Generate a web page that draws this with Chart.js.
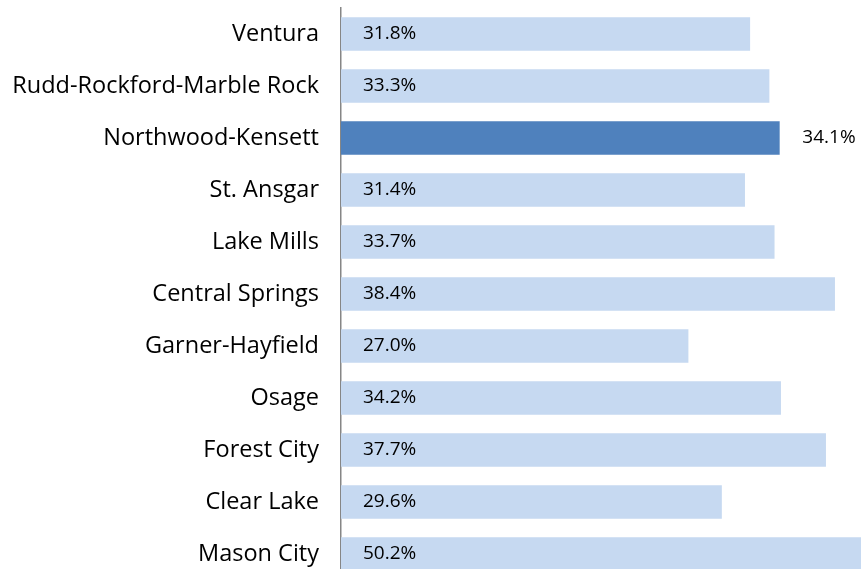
<!DOCTYPE html>
<html>
<head>
<meta charset="utf-8">
<script src="https://cdn.jsdelivr.net/npm/chart.js@4.4.0/dist/chart.umd.min.js"></script>
<style>
  html, body { margin: 0; padding: 0; background: #fff; overflow: hidden; }
  #wrap { position: relative; width: 1120px; height: 580px; }
</style>
</head>
<body>
<div id="wrap"><canvas id="chart"></canvas></div>
<script>
const districts = [
  "Ventura",
  "Rudd-Rockford-Marble Rock",
  "Northwood-Kensett",
  "St. Ansgar",
  "Lake Mills",
  "Central Springs",
  "Garner-Hayfield",
  "Osage",
  "Forest City",
  "Clear Lake",
  "Mason City"
];
const percents = [31.8, 33.3, 34.1, 31.4, 33.7, 38.4, 27.0, 34.2, 37.7, 29.6, 50.2];
const highlighted = "Northwood-Kensett";

const lightBlue = "#C6D9F1";
const darkBlue = "#4F81BD";
const font = "'Open Sans', Lato, sans-serif";

// value labels: inside at the left for normal bars, past the end for the highlighted one
const valueLabels = {
  id: "valueLabels",
  afterDatasetsDraw(chart) {
    const ctx = chart.ctx;
    const meta = chart.getDatasetMeta(0);
    ctx.save();
    ctx.font = "19px " + font;
    ctx.fillStyle = "#000";
    ctx.textBaseline = "middle";
    ctx.textAlign = "left";
    meta.data.forEach((bar, i) => {
      const txt = percents[i].toFixed(1) + "%";
      if (districts[i] === highlighted) {
        ctx.fillText(txt, bar.x + 23, bar.y);
      } else {
        ctx.fillText(txt, bar.base + 22, bar.y);
      }
    });
    ctx.restore();
  }
};

new Chart(document.getElementById("chart"), {
  type: "bar",
  data: {
    labels: districts,
    datasets: [{
      data: percents,
      backgroundColor: districts.map(d => d === highlighted ? darkBlue : lightBlue),
      barThickness: 33,
      borderWidth: 0
    }]
  },
  options: {
    indexAxis: "y",
    responsive: true,
    maintainAspectRatio: false,
    animation: false,
    layout: { padding: { top: 8, left: 0, right: 0, bottom: 0 } },
    plugins: {
      legend: { display: false },
      tooltip: { enabled: false }
    },
    scales: {
      x: {
        display: false,
        min: 0,
        max: 60.6
      },
      y: {
        afterFit(scale) {
          scale.width = 341;
          scale.paddingTop = 0;
          scale.paddingBottom = 0;
        },
        grid: { display: false, drawTicks: false },
        border: { display: true, color: "#868686", width: 1.5 },
        ticks: {
          padding: 22,
          color: "#000",
          font: { family: font, size: 23.5 }
        }
      }
    }
  },
  plugins: [valueLabels]
});
</script>
</body>
</html>
